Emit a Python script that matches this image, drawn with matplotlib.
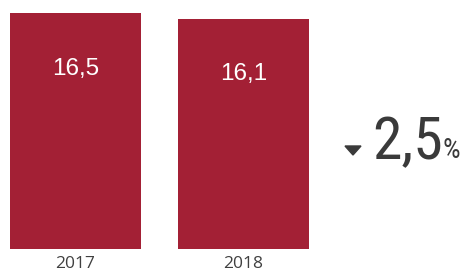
import matplotlib
matplotlib.use("Agg")
import matplotlib.pyplot as plt
from matplotlib.patches import Polygon

years = ["2017", "2018"]
values = [16.5, 16.1]
value_labels = ["16,5", "16,1"]
change_label = "2,5"
change_unit = "%"

W, H = 470, 273
fig = plt.figure(figsize=(W / 100, H / 100), dpi=100)
fig.patch.set_facecolor("white")

def fx(px):
    return px / W

def fy(py):
    return 1 - py / H

narrow = ["Roboto Condensed", "Archivo Narrow", "DejaVu Sans"]

bar_w = 131 / 168
ax = fig.add_axes([fx(10), fy(249), fx(309) - fx(10), (249 - 13) / H])
ax.bar(range(len(years)), values, width=bar_w, color="#A32035")
ax.set_xlim(-bar_w / 2, len(years) - 1 + bar_w / 2)
ax.set_ylim(0, values[0])
ax.axis("off")

for i, (v, lab) in enumerate(zip(values, value_labels)):
    ax.annotate(lab, (i, v), xytext=(0, -40), textcoords="offset points",
                ha="center", va="center", color="white", fontsize=17.5,
                family="Liberation Sans")
    ax.annotate(years[i], (i, 0), xytext=(0, -10.5), textcoords="offset points",
                ha="center", va="center", color="#404040", fontsize=12.5,
                family="Open Sans")

fig.text(fx(372), fy(159), change_label, ha="left", va="baseline",
         fontsize=43, color="#3a3a3a", family=narrow)
fig.text(fx(443), fy(158), change_unit, ha="left", va="baseline",
         fontsize=20, color="#3a3a3a", family=narrow)

tri = Polygon([[fx(345), fy(146)], [fx(361), fy(146)], [fx(353), fy(155)]],
              closed=True, transform=fig.transFigure, color="#3a3a3a")
fig.patches.append(tri)

fig.savefig("out.png", dpi=100)
